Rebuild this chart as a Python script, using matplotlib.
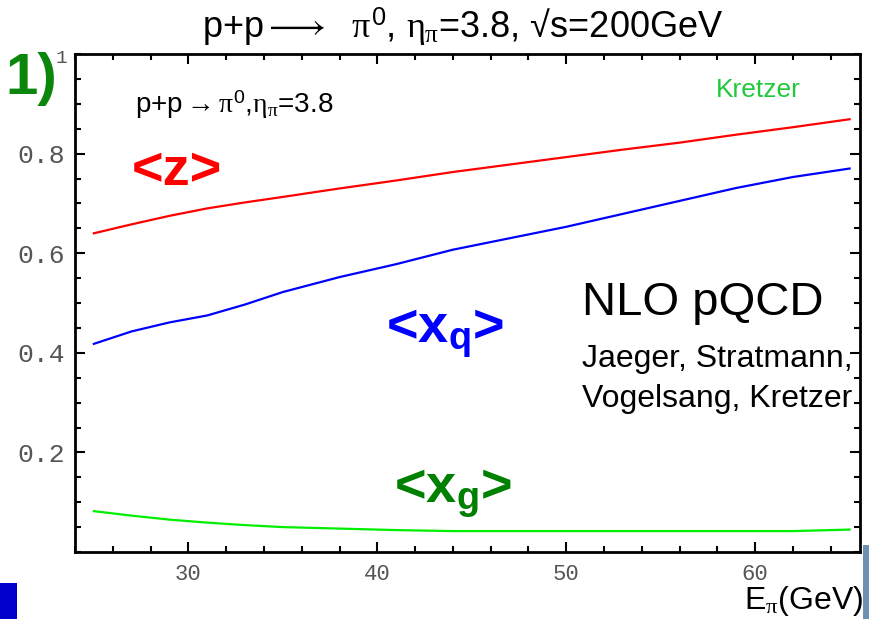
import matplotlib
matplotlib.use('Agg')
import matplotlib.pyplot as plt
from matplotlib.ticker import MultipleLocator, FixedLocator
from matplotlib.patches import Rectangle

plt.rcParams['font.family'] = ['Liberation Sans', 'DejaVu Sans']
plt.rcParams['mathtext.fontset'] = 'custom'
plt.rcParams['mathtext.rm'] = 'Liberation Sans'
plt.rcParams['mathtext.it'] = 'Liberation Serif'
plt.rcParams['mathtext.bf'] = 'Liberation Sans:bold'
plt.rcParams['mathtext.sf'] = 'Liberation Sans'

# ---- data ----
e_pi = [25, 27, 29, 31, 33, 35, 38, 41, 44, 47, 50, 53, 56, 59, 62, 65]
z_mean = [0.640, 0.658, 0.675, 0.690, 0.702, 0.713, 0.730, 0.746,
          0.763, 0.778, 0.793, 0.808, 0.822, 0.838, 0.853, 0.869]
xq_mean = [0.418, 0.443, 0.461, 0.475, 0.497, 0.522, 0.552, 0.578,
           0.607, 0.630, 0.653, 0.679, 0.705, 0.731, 0.753, 0.770]
xg_mean = [0.082, 0.073, 0.065, 0.059, 0.054, 0.050, 0.047, 0.044,
           0.042, 0.042, 0.042, 0.042, 0.042, 0.042, 0.042, 0.045]
x_ticks = [30, 40, 50, 60]
x_tick_labels = ['30', '40', '50', '60']
y_ticks = [0.2, 0.4, 0.6, 0.8]
y_tick_labels = ['0.2', '0.4', '0.6', '0.8']

W, H = 870, 619
def fx(x):
    return x / W
def fy(y):
    return 1 - y / H

fig = plt.figure(figsize=(W / 100, H / 100), dpi=100)
fig.patch.set_facecolor('white')
ax = fig.add_axes([fx(75), fy(552), (860 - 75) / W, (552 - 54) / H])

ax.plot(e_pi, z_mean, color='#ff0000', lw=1.6)
ax.plot(e_pi, xq_mean, color='#0000ff', lw=1.6)
ax.plot(e_pi, xg_mean, color='#00ee00', lw=1.6)

ax.set_xlim(24, 65.55)
ax.set_ylim(0, 1)
ax.xaxis.set_major_locator(FixedLocator(x_ticks))
ax.xaxis.set_minor_locator(MultipleLocator(2))
ax.yaxis.set_major_locator(FixedLocator(y_ticks))
ax.yaxis.set_minor_locator(MultipleLocator(0.05))
ax.set_xticklabels(x_tick_labels, family='Liberation Mono', fontsize=16, color='#555555')
ax.set_yticklabels(y_tick_labels, family='Liberation Mono', fontsize=19, color='#555555')
ax.tick_params(which='both', direction='in', top=True, right=True, width=1.5, color='black')
ax.tick_params(which='major', length=7)
ax.tick_params(which='minor', length=4.5)
ax.tick_params(axis='x', pad=9)
ax.tick_params(axis='y', pad=7)
for s in ax.spines.values():
    s.set_linewidth(2)
    s.set_color('black')

# y=1 label
fig.text(fx(56), fy(63), '1', family='Liberation Mono', fontsize=14, color='#555555', va='baseline')

# title
fig.text(fx(463), fy(38), r'p+p$\longrightarrow$  $\pi^0$, $\eta_\pi$=3.8, √s=200GeV',
         fontsize=26, ha='center', va='baseline', color='black')

# 1)
fig.text(fx(5), fy(94), '1)', fontsize=42, fontweight='bold', color='#0a870a', va='baseline')

# inner label
fig.text(fx(135), fy(113), r'p+p$\rightarrow\pi^0$,$\eta_\pi$=3.8', fontsize=20, color='black', va='baseline')

# Kretzer
fig.text(fx(716), fy(97), 'Kretzer', fontsize=19, color='#22c83c', va='baseline')

# curve labels
fig.text(fx(132), fy(185), '<z>', fontsize=39, fontweight='bold', color='#ff0000', va='baseline')
fig.text(fx(386), fy(342), r'<x$_\mathbf{q}$>', fontsize=39, fontweight='bold', color='#0000ff', va='baseline')
fig.text(fx(394), fy(502), r'<x$_\mathbf{g}$>', fontsize=39, fontweight='bold', color='#008000', va='baseline')

# NLO text
fig.text(fx(582), fy(315), 'NLO pQCD', fontsize=34, color='black', va='baseline')
fig.text(fx(582), fy(367), 'Jaeger, Stratmann,', fontsize=23, color='black', va='baseline')
fig.text(fx(582), fy(407), 'Vogelsang, Kretzer', fontsize=23, color='black', va='baseline')

# x axis label
fig.text(fx(863), fy(609), r'E$_\pi$(GeV)', fontsize=23, color='black', ha='right', va='baseline')

# decorative corner blocks
fig.patches.append(Rectangle((0, 0), 17 / W, 36 / H, transform=fig.transFigure,
                             facecolor='#0000cc', edgecolor='none'))
fig.patches.append(Rectangle((fx(863), 0), 7 / W, 74 / H, transform=fig.transFigure,
                             facecolor='#6f8fb5', edgecolor='none'))

fig.savefig('out.png', dpi=100)
